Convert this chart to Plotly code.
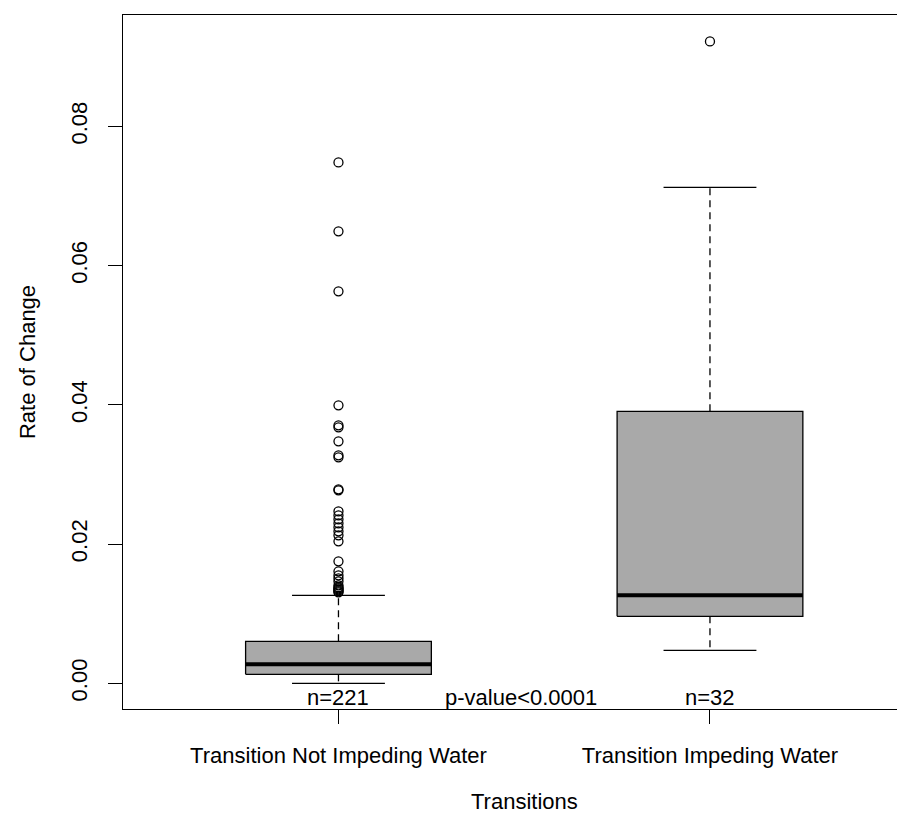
import plotly.graph_objects as go

# ---- data ----
categories = ["Transition Not Impeding Water", "Transition Impeding Water"]
positions = [1, 2]
q1 = [0.00129, 0.00962]
medians = [0.00273, 0.01264]
q3 = [0.00603, 0.03907]
lower_whisker = [0.0, 0.00474]
upper_whisker = [0.01264, 0.07124]
outliers_not_impeding = [0.07483, 0.06492, 0.05631, 0.03993, 0.03706, 0.03677, 0.03476,
                         0.03275, 0.03246, 0.02787, 0.02772, 0.02470, 0.02413, 0.02356,
                         0.02298, 0.02241, 0.02183, 0.02126, 0.02040, 0.01752, 0.01609,
                         0.01551, 0.01508, 0.01465, 0.01408, 0.01380, 0.01365, 0.01350,
                         0.01336, 0.01320, 0.01307]
outliers_impeding = [0.0922]
outliers = [outliers_not_impeding, outliers_impeding]
n_labels = ["n=221", "n=32"]
p_label = "p-value<0.0001"
y_ticks = [0.0, 0.02, 0.04, 0.06, 0.08]
y_tick_labels = ["0.00", "0.02", "0.04", "0.06", "0.08"]

# ---- styling ----
FONT = "Liberation Sans, Arial, sans-serif"
FS = 22
BOX_HALF = 0.25
CAP_HALF = 0.125
FILL = "#A9A9A9"
LW = 1.3

fig = go.Figure()

for i, p in enumerate(positions):
    # box
    fig.add_trace(go.Scatter(
        x=[p - BOX_HALF, p + BOX_HALF, p + BOX_HALF, p - BOX_HALF, p - BOX_HALF],
        y=[q1[i], q1[i], q3[i], q3[i], q1[i]],
        mode="lines", fill="toself", fillcolor=FILL,
        line=dict(color="black", width=LW), hoverinfo="skip", showlegend=False))
    # median
    fig.add_trace(go.Scatter(
        x=[p - BOX_HALF, p + BOX_HALF], y=[medians[i], medians[i]],
        mode="lines", line=dict(color="black", width=4), showlegend=False))
    # whiskers (dashed)
    fig.add_trace(go.Scatter(
        x=[p, p, None, p, p],
        y=[q3[i], upper_whisker[i], None, q1[i], lower_whisker[i]],
        mode="lines", line=dict(color="black", width=LW, dash="7px,5px"),
        showlegend=False))
    # caps
    fig.add_trace(go.Scatter(
        x=[p - CAP_HALF, p + CAP_HALF, None, p - CAP_HALF, p + CAP_HALF],
        y=[upper_whisker[i], upper_whisker[i], None, lower_whisker[i], lower_whisker[i]],
        mode="lines", line=dict(color="black", width=LW), showlegend=False))
    # outliers
    fig.add_trace(go.Scatter(
        x=[p] * len(outliers[i]), y=outliers[i], mode="markers",
        marker=dict(symbol="circle-open", size=9, color="black", line=dict(width=1.3)),
        showlegend=False))
    # n labels
    fig.add_annotation(x=p, y=-0.0021, xref="x", yref="y", text=n_labels[i],
                       showarrow=False, font=dict(family=FONT, size=FS, color="black"),
                       xanchor="center", yanchor="middle")

fig.add_annotation(x=1.49, y=-0.0021, xref="x", yref="y", text=p_label,
                   showarrow=False, font=dict(family=FONT, size=FS, color="black"),
                   xanchor="center", yanchor="middle")

# axis titles
fig.add_annotation(x=1.5, y=-0.134, xref="x", yref="paper", text="Transitions",
                   showarrow=False, font=dict(family=FONT, size=FS, color="black"),
                   xanchor="center", yanchor="middle")
fig.add_annotation(x=-0.1215, y=0.5, xref="paper", yref="paper", text="Rate of Change",
                   textangle=-90, showarrow=False,
                   font=dict(family=FONT, size=FS, color="black"),
                   xanchor="center", yanchor="middle")

fig.update_layout(
    width=905, height=817,
    margin=dict(l=115, r=0, t=7, b=116),
    plot_bgcolor="white", paper_bgcolor="white",
    font=dict(family=FONT, size=FS, color="black"),
    showlegend=False,
)
fig.update_xaxes(
    range=[0.42, 2.5465], tickvals=positions, ticktext=categories,
    ticks="outside", ticklen=14, tickwidth=LW, tickcolor="black",
    showline=True, linecolor="black", linewidth=LW, mirror=True,
    showgrid=False, zeroline=False, ticklabelstandoff=12,
    tickfont=dict(family=FONT, size=FS, color="black"),
)
fig.update_yaxes(
    range=[-0.00369, 0.0960], tickvals=y_ticks, ticktext=y_tick_labels,
    tickangle=-90, ticks="outside", ticklen=14, tickwidth=LW, tickcolor="black",
    showline=True, linecolor="black", linewidth=LW,
    showgrid=False, zeroline=False, ticklabelstandoff=12,
    tickfont=dict(family=FONT, size=FS, color="black"),
)

fig.write_html("out.html")
